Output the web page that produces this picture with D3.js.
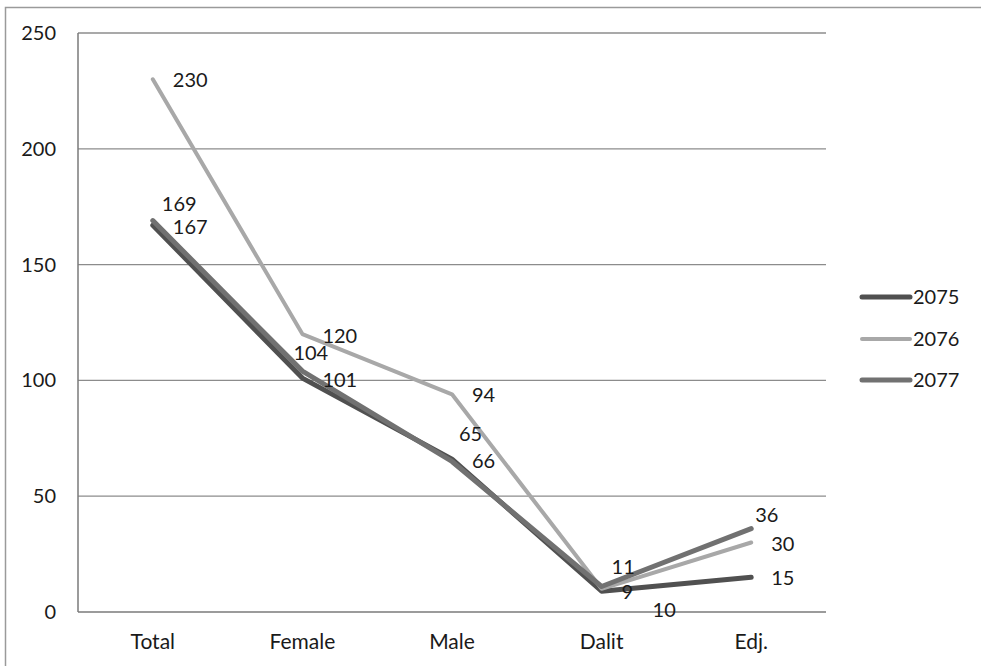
<!DOCTYPE html>
<html><head><meta charset="utf-8">
<script src="https://cdn.jsdelivr.net/npm/d3@7"></script>
<style>
html,body{margin:0;padding:0;background:#fff;}
svg{display:block;}
text{font-family:Lato,"Open Sans",sans-serif;fill:#1a1a1a;}
</style></head>
<body>
<script>
const categories = ["Total", "Female", "Male", "Dalit", "Edj."];
const seriesNames = ["2075", "2076", "2077"];
const values2075 = [167, 101, 66, 9, 15];
const values2076 = [230, 120, 94, 10, 30];
const values2077 = [169, 104, 65, 11, 36];
const yTicks = [0, 50, 100, 150, 200, 250];

// label nudges (pixels) relative to default right-side label position
const labelNudge = {
  "2075": [[0,2],[0,2],[0,2],[0,1],[0,1]],
  "2076": [[0,1],[0,2],[0,1],[31,21],[0,1]],
  "2077": [[-11,-17],[-29,-18],[-13,-27],[-10,-20],[-16,-14]]
};

const W = 981, H = 666;
const svg = d3.select("body").append("svg").attr("width", W).attr("height", H);

// outer border
svg.append("path").attr("d", `M5.5,${H} V7.5 H${W}`).attr("fill","none").attr("stroke","#9a9a9a").attr("stroke-width",1.5);

const x = d3.scalePoint().domain(categories).range([78, 826]).padding(0.5);
const y = d3.scaleLinear().domain([0, 250]).range([612, 33]);

// gridlines
svg.append("g").selectAll("line").data(yTicks.filter(t => t > 0)).join("line")
  .attr("x1", 78).attr("x2", 826).attr("y1", d => y(d)).attr("y2", d => y(d))
  .attr("stroke", "#8c8c8c").attr("stroke-width", 1.3);

// axes lines
svg.append("line").attr("x1",78).attr("x2",78).attr("y1",y(250)).attr("y2",y(0)).attr("stroke","#7a7a7a").attr("stroke-width",1.5);
svg.append("line").attr("x1",78).attr("x2",826).attr("y1",y(0)).attr("y2",y(0)).attr("stroke","#7a7a7a").attr("stroke-width",1.5);

// y tick labels
svg.append("g").selectAll("text").data(yTicks).join("text")
  .attr("x", 56).attr("y", d => y(d)).attr("dy","0.35em")
  .attr("text-anchor","end").attr("font-size",20).text(d => d);

// x labels
svg.append("g").selectAll("text").data(categories).join("text")
  .attr("x", d => x(d)).attr("y", 642).attr("dy","0.35em")
  .attr("text-anchor","middle").attr("font-size",21).text(d => d);

const series = [
  {name: "2075", values: values2075, color: "#505050", width: 5},
  {name: "2076", values: values2076, color: "#a8a8a8", width: 4},
  {name: "2077", values: values2077, color: "#717171", width: 5}
];

const line = d3.line().x((d,i) => x(categories[i])).y(d => y(d));

series.forEach(s => {
  svg.append("path").datum(s.values).attr("d", line)
    .attr("fill","none").attr("stroke", s.color).attr("stroke-width", s.width)
    .attr("stroke-linejoin","round").attr("stroke-linecap","round");
});

series.forEach(s => {
  svg.append("g").selectAll("text").data(s.values).join("text")
    .attr("x", (d,i) => x(categories[i]) + 20 + labelNudge[s.name][i][0])
    .attr("y", (d,i) => y(d) + labelNudge[s.name][i][1])
    .attr("dy","0.35em").attr("font-size",20).text(d => d);
});

// legend
const legendY = [297, 339, 380];
series.forEach((s, i) => {
  svg.append("line").attr("x1", 862).attr("x2", 910).attr("y1", legendY[i]).attr("y2", legendY[i])
    .attr("stroke", s.color).attr("stroke-width", s.width).attr("stroke-linecap","round");
  svg.append("text").attr("x", 913).attr("y", legendY[i]).attr("dy","0.35em")
    .attr("font-size",20).text(s.name);
});
</script>
</body></html>
